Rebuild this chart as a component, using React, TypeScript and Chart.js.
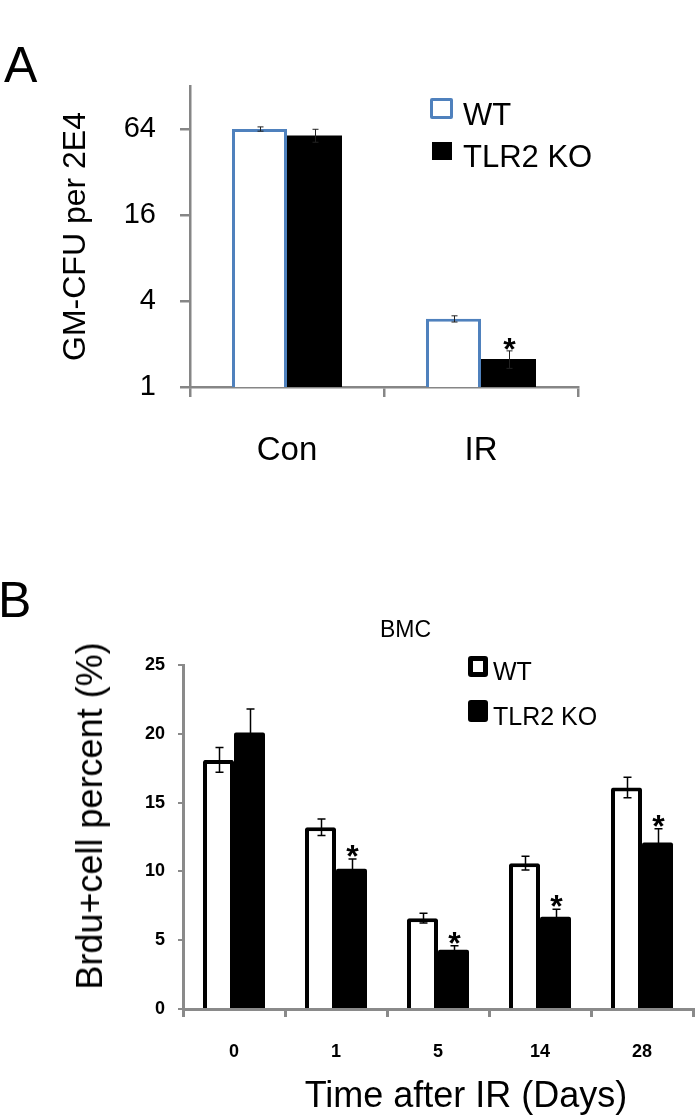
import React, { useEffect, useRef } from 'react';
import { Chart, registerables } from 'chart.js';

Chart.register(...registerables);

const FONT = "'Liberation Sans', Arial, Helvetica, sans-serif";
Chart.defaults.font.family = FONT;

// ---------- Panel A data ----------
const categoriesA = ['Con', 'IR'];
const wtA = [64, 3.0];
const wtErrA = [2.2, 0.15];
const koA = [57.7, 1.57];
const koErrA = [6.0, 0.22];
const sigA = [false, true];
const yTicksA = [1, 4, 16, 64];

// ---------- Panel B data ----------
const categoriesB = ['0', '1', '5', '14', '28'];
const wtB = [18.1, 13.2, 6.6, 10.6, 16.1];
const wtErrB = [0.9, 0.6, 0.35, 0.5, 0.75];
const koB = [20.1, 10.2, 4.3, 6.7, 12.1];
const koErrB = [1.7, 0.7, 0.3, 0.55, 1.0];
const sigB = [false, true, true, true, true];
const yTicksB = [0, 5, 10, 15, 20, 25];

const seriesNames = ['WT', 'TLR2 KO'];

const AXIS_A = '#868686';
const AXIS_B = '#8a8a8a';

const errorBarPlugin = {
  id: 'errorBars',
  afterDatasetsDraw(chart: any, _args: any, opts: any) {
    const { ctx } = chart;
    const yScale = chart.scales.y;
    ctx.save();
    chart.data.datasets.forEach((ds: any, di: number) => {
      const meta = chart.getDatasetMeta(di);
      const errs = opts.errors ? opts.errors[di] : null;
      if (!errs) return;
      meta.data.forEach((bar: any, i: number) => {
        const v = ds.data[i];
        const e = errs[i];
        const x = Math.round(bar.x) + 0.5;
        const top = yScale.getPixelForValue(v + e);
        const bot = yScale.getPixelForValue(v - e);
        ctx.strokeStyle = opts.color;
        ctx.lineWidth = opts.lineWidth;
        ctx.beginPath();
        ctx.moveTo(x, top);
        ctx.lineTo(x, bot);
        ctx.moveTo(x - opts.capHalf, top);
        ctx.lineTo(x + opts.capHalf, top);
        ctx.moveTo(x - opts.capHalf, bot);
        ctx.lineTo(x + opts.capHalf, bot);
        ctx.stroke();
        const sig = opts.significant ? opts.significant[di] : null;
        if (sig && sig[i]) {
          ctx.fillStyle = '#000';
          ctx.font = opts.starFont;
          ctx.textAlign = 'center';
          ctx.textBaseline = 'alphabetic';
          ctx.fillText('*', x, top + opts.starOffset);
        }
      });
    });
    ctx.restore();
  },
};

function configA(): any {
  return {
    type: 'bar',
    data: {
      labels: categoriesA,
      datasets: [
        {
          label: seriesNames[0],
          data: wtA,
          backgroundColor: '#ffffff',
          borderColor: '#4f81bd',
          borderWidth: 3,
          borderSkipped: 'start',
        },
        {
          label: seriesNames[1],
          data: koA,
          backgroundColor: '#000000',
          borderColor: '#000000',
          borderWidth: 0,
        },
      ],
    },
    options: {
      responsive: false,
      animation: false,
      layout: { padding: { top: 86, right: 122, left: 0, bottom: 0 } },
      datasets: { bar: { categoryPercentage: 110 / 194, barPercentage: 1 } },
      plugins: {
        legend: { display: false },
        tooltip: { enabled: false },
        errorBars: {
          errors: [wtErrA, koErrA],
          significant: [null, sigA],
          color: '#222',
          lineWidth: 1,
          capHalf: 3,
          starFont: `bold 32px ${FONT}`,
          starOffset: 9,
        },
      },
      scales: {
        x: {
          grid: { display: true, drawOnChartArea: false, drawTicks: true, tickLength: 10, color: AXIS_A, lineWidth: 2.5, offset: true },
          border: { display: true, color: AXIS_A, width: 2.5 },
          ticks: { font: { size: 33, family: FONT }, color: '#000', padding: 34, maxRotation: 0, autoSkip: false },
          afterFit: (s: any) => { s.height = 93; },
        },
        y: {
          type: 'logarithmic',
          min: 1,
          max: 128,
          afterBuildTicks: (s: any) => { s.ticks = yTicksA.map((v) => ({ value: v })); },
          grid: { display: true, drawOnChartArea: false, drawTicks: true, tickLength: 10, color: AXIS_A, lineWidth: 2.5 },
          border: { display: true, color: AXIS_A, width: 2.5 },
          ticks: { font: { size: 29, family: FONT }, color: '#000', padding: 24, callback: (v: any) => String(v) },
          title: { display: true, text: 'GM-CFU per 2E4', font: { size: 32, family: FONT }, color: '#000', padding: { top: 57, bottom: 0 } },
          afterFit: (s: any) => { s.width = 190; },
        },
      },
    },
    plugins: [errorBarPlugin],
  };
}

function configB(): any {
  return {
    type: 'bar',
    data: {
      labels: categoriesB,
      datasets: [
        {
          label: seriesNames[0],
          data: wtB,
          backgroundColor: '#ffffff',
          borderColor: '#000000',
          borderWidth: 4,
          borderRadius: 2,
          borderSkipped: 'start',
        },
        {
          label: seriesNames[1],
          data: koB,
          backgroundColor: '#000000',
          borderColor: '#000000',
          borderWidth: 0,
          borderRadius: 2,
          borderSkipped: 'start',
        },
      ],
    },
    options: {
      responsive: false,
      animation: false,
      layout: { padding: { top: 185, right: 7, left: 0, bottom: 0 } },
      datasets: { bar: { categoryPercentage: 62 / 102, barPercentage: 1 } },
      plugins: {
        legend: { display: false },
        tooltip: { enabled: false },
        errorBars: {
          errors: [wtErrB, koErrB],
          significant: [null, sigB],
          color: '#000',
          lineWidth: 1.5,
          capHalf: 4,
          starFont: `bold 32px ${FONT}`,
          starOffset: 8,
        },
      },
      scales: {
        x: {
          grid: { display: true, drawOnChartArea: false, drawTicks: true, tickLength: 8, color: AXIS_B, lineWidth: 3, offset: true },
          border: { display: true, color: AXIS_B, width: 3 },
          ticks: { font: { size: 18, weight: 'bold', family: FONT }, color: '#000', padding: 24, maxRotation: 0, autoSkip: false },
          afterFit: (s: any) => { s.height = 108; },
        },
        y: {
          type: 'linear',
          min: 0,
          max: 25,
          afterBuildTicks: (s: any) => { s.ticks = yTicksB.map((v) => ({ value: v })); },
          grid: { display: true, drawOnChartArea: false, drawTicks: true, tickLength: 5, color: AXIS_B, lineWidth: 2 },
          border: { display: true, color: AXIS_B, width: 3 },
          ticks: { font: { size: 18, weight: 'bold', family: FONT }, color: '#000', padding: 13, callback: (v: any) => String(v) },
          afterFit: (s: any) => { s.width = 183; },
        },
      },
    },
    plugins: [errorBarPlugin],
  };
}

const abs = (extra: React.CSSProperties): React.CSSProperties => ({
  position: 'absolute',
  whiteSpace: 'nowrap',
  lineHeight: 1,
  color: '#000',
  fontFamily: FONT,
  ...extra,
});

export default function App() {
  const refA = useRef<HTMLCanvasElement>(null);
  const refB = useRef<HTMLCanvasElement>(null);

  useEffect(() => {
    const a = new Chart(refA.current as HTMLCanvasElement, configA());
    const b = new Chart(refB.current as HTMLCanvasElement, configB());
    return () => {
      a.destroy();
      b.destroy();
    };
  }, []);

  return (
    <div style={{ position: 'absolute', left: 0, top: 0, width: 700, height: 1117, background: '#fff', overflow: 'hidden' }}>
      <canvas ref={refA} width={700} height={480} style={{ position: 'absolute', left: 0, top: 0 }} />
      <canvas ref={refB} width={700} height={637} style={{ position: 'absolute', left: 0, top: 480 }} />

      {/* Panel letters */}
      <div style={abs({ left: 4, top: 40, fontSize: 50 })}>A</div>
      <div style={abs({ left: -2, top: 575, fontSize: 50 })}>B</div>

      {/* Legend A */}
      <div style={abs({ left: 430, top: 98, width: 23, height: 21, boxSizing: 'border-box', border: '3px solid #4f81bd', borderRadius: 2, background: '#fff' })} />
      <div style={abs({ left: 463, top: 99, fontSize: 31 })}>{seriesNames[0]}</div>
      <div style={abs({ left: 432, top: 142, width: 20, height: 18, background: '#000' })} />
      <div style={abs({ left: 463, top: 141, fontSize: 31 })}>{seriesNames[1]}</div>

      {/* Panel B title */}
      <div style={abs({ left: 380, top: 618, fontSize: 23 })}>BMC</div>

      {/* Legend B */}
      <div style={abs({ left: 468, top: 656, width: 20, height: 21, boxSizing: 'border-box', border: '5px solid #000', borderRadius: 3, background: '#fff' })} />
      <div style={abs({ left: 493, top: 659, fontSize: 25 })}>{seriesNames[0]}</div>
      <div style={abs({ left: 468, top: 700, width: 20, height: 22, background: '#000', borderRadius: 3 })} />
      <div style={abs({ left: 493, top: 704, fontSize: 25 })}>{seriesNames[1]}</div>

      {/* Panel B axis titles */}
      <div style={abs({ left: 89.5, top: 816, fontSize: 36, transform: 'translate(-50%, -50%) rotate(-90deg)' })}>Brdu+cell percent (%)</div>
      <div style={abs({ left: 466, top: 1077, fontSize: 36, transform: 'translateX(-50%)' })}>Time after IR (Days)</div>
    </div>
  );
}
